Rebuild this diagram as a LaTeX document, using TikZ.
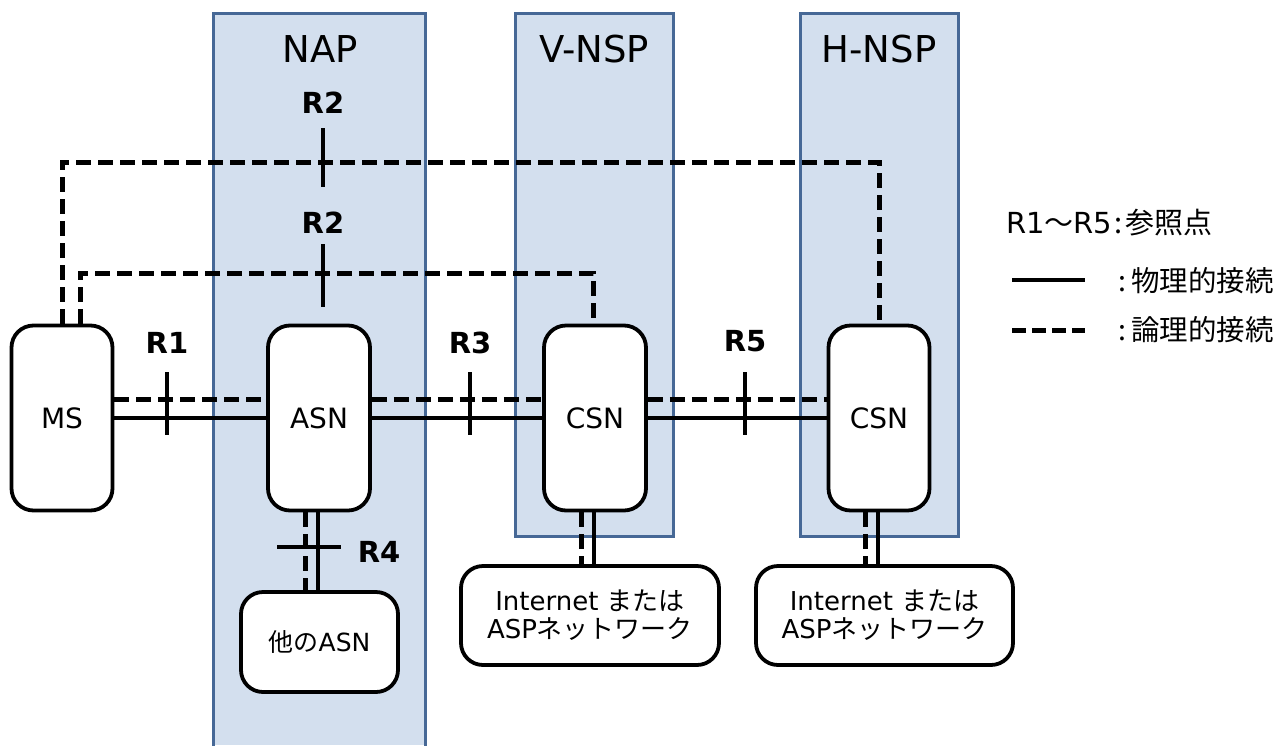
\documentclass[tikz,border=0pt]{standalone}
\usepackage{fontspec}
\setmainfont{DejaVu Sans}
\newfontfamily\cjk{Noto Sans CJK JP}
\definecolor{zonefill}{RGB}{211,223,238}
\definecolor{zoneline}{RGB}{70,104,150}
\tikzset{
  zone/.style={fill=zonefill},
  zoneedge/.style={draw=zoneline, line width=3pt},
  box/.style={draw, line width=3.8pt, rounded corners=22pt, fill=white, align=center, inner sep=0pt},
  phys/.style={line width=4.5pt},
  logi/.style={line width=5pt, dash pattern=on 15pt off 7pt},
  tickmark/.style={line width=4.5pt},
  rlabel/.style={font=\fontsize{29}{32}\selectfont\bfseries},
  zonetitle/.style={font=\fontsize{37}{40}\selectfont},
  boxtext/.style={font=\fontsize{28}{32}\selectfont},
  jtext/.style={font=\fontsize{26}{28}\selectfont},
}
\begin{document}
\begin{tikzpicture}[x=1pt,y=-1pt]
\useasboundingbox (0,0) rectangle (1279,745);
% zones
\fill[zone] (213,13) rectangle (425,745);
\draw[zoneedge] (213,747) -- (213,13) -- (425,13) -- (425,747);
\filldraw[zone,zoneedge] (515,13) rectangle (673,536);
\filldraw[zone,zoneedge] (800,13) rectangle (958,536);
\node[zonetitle] (tnap) at (320,49) {NAP};
\node[zonetitle] (tvnsp) at (594,49) {V-NSP};
\node[zonetitle] (thnsp) at (879,49) {H-NSP};
% nodes
\node[box, boxtext, minimum width=101pt, minimum height=185pt] (ms) at (62,418) {MS};
\node[box, boxtext, minimum width=102pt, minimum height=185pt] (asn) at (319,418) {ASN};
\node[box, boxtext, minimum width=102pt, minimum height=185pt] (csn1) at (595,418) {CSN};
\node[box, boxtext, minimum width=101pt, minimum height=185pt] (csn2) at (879,418) {CSN};
\node[box, font=\fontsize{25}{30}\selectfont, minimum width=157pt, minimum height=100pt] (other) at (319.5,642) {{\cjk 他の}ASN};
\node[box, jtext, minimum width=258pt, minimum height=99pt] (inet1) at (590,615.5) {Internet {\cjk または}\\ASP{\cjk ネットワーク}};
\node[box, jtext, minimum width=257pt, minimum height=99pt] (inet2) at (884.5,615.5) {Internet {\cjk または}\\ASP{\cjk ネットワーク}};
% horizontal connections
\draw[phys] (ms.east) -- (asn.west);
\draw[phys] (asn.east) -- (csn1.west);
\draw[phys] (csn1.east) -- (csn2.west);
\draw[logi] ([yshift=19pt]ms.east) -- ([yshift=19pt]asn.west);
\draw[logi] ([yshift=19pt]asn.east) -- ([yshift=19pt]csn1.west);
\draw[logi] ([yshift=19pt]csn1.east) -- ([yshift=19pt]csn2.west);
% upper logical connections
\coordinate (topA) at (0,162);
\coordinate (topB) at (0,273);
\draw[logi] (ms.north) -- (ms.north |- topA) -| (csn2.north);
\draw[logi] ([xshift=18pt]ms.north) -- ([xshift=18pt]ms.north |- topB) -| ([xshift=-2pt]csn1.north);
% lower connections
\draw[phys] ([xshift=-1pt]asn.south) -- ([xshift=-1pt]asn.south |- other.north);
\draw[logi] ([xshift=-14pt]asn.south) -- ([xshift=-14pt]asn.south |- other.north);
\draw[phys] ([xshift=-1pt]csn1.south) -- ([xshift=-1pt]csn1.south |- inet1.north);
\draw[logi] ([xshift=-14pt]csn1.south) -- ([xshift=-14pt]csn1.south |- inet1.north);
\draw[phys] ([xshift=-1pt]csn2.south) -- ([xshift=-1pt]csn2.south |- inet2.north);
\draw[logi] ([xshift=-14pt]csn2.south) -- ([xshift=-14pt]csn2.south |- inet2.north);
% reference point ticks
\draw[tickmark] (167,372) -- (167,435);
\draw[tickmark] (470,372) -- (470,435);
\draw[tickmark] (745,372) -- (745,435);
\draw[tickmark] (323,128) -- (323,187);
\draw[tickmark] (323,244) -- (323,307);
\draw[tickmark] (277,547) -- (341,547);
\node[rlabel] (r1) at (167,343) {R1};
\node[rlabel] (r3) at (470,343) {R3};
\node[rlabel] (r5) at (745,341) {R5};
\node[rlabel] (r2a) at (323,103) {R2};
\node[rlabel] (r2b) at (323,223) {R2};
\node[rlabel] (r4) at (379,552) {R4};
% legend
\node[anchor=west, font=\fontsize{29}{32}\selectfont, inner sep=0pt] (lgtitle) at (1006,223) {R1{\cjk ～}R5{\cjk \hspace{2pt}:\hspace{3pt}参照点}};
\coordinate (lgA1) at (1012,280);
\coordinate (lgA2) at (1085,280);
\coordinate (lgB1) at (1012,330);
\coordinate (lgB2) at (1085,330);
\draw[phys] (lgA1) -- (lgA2);
\draw[logi, dash pattern=on 14pt off 6pt] (lgB1) -- (lgB2);
\node[anchor=west, font=\fontsize{28.5}{30}\selectfont\cjk, inner sep=0pt] (lgphys) at (1118,281) {:\hspace{5pt}物理的接続};
\node[anchor=west, font=\fontsize{28.5}{30}\selectfont\cjk, inner sep=0pt] (lglogi) at (1118,330) {:\hspace{5pt}論理的接続};
\end{tikzpicture}
\end{document}
